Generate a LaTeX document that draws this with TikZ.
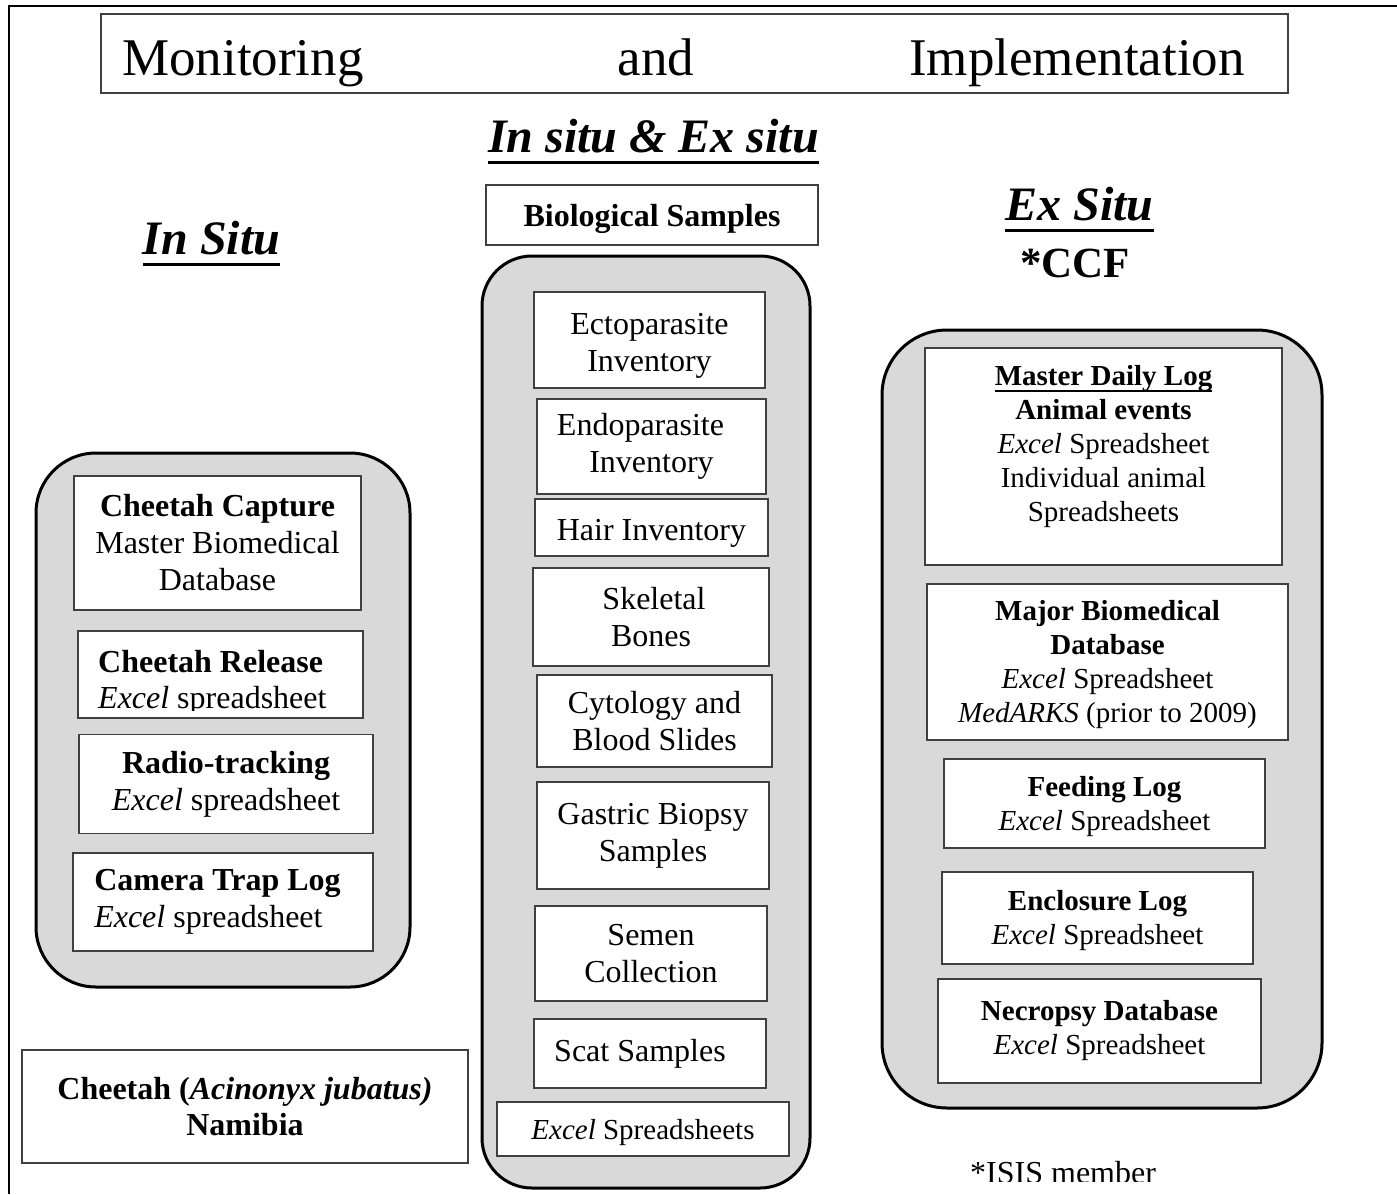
\documentclass[tikz,border=0pt]{standalone}
\usepackage{fontspec}
\setmainfont{Liberation Serif}
\definecolor{panelgray}{HTML}{D9D9D9}
\definecolor{boxline}{HTML}{404040}
\newcommand{\myBody}{\fontsize{32}{37}\selectfont}
\newcommand{\myRight}{\fontsize{29}{34}\selectfont}
\newcommand{\myHead}{\fontsize{48}{52}\selectfont\bfseries\itshape}
\newcommand{\ulbar}[3]{\setbox0=\hbox{#3}\rlap{\rule[-#1]{\wd0}{#2}}\box0}
\newcommand{\tstrut}[1]{\rule{0pt}{#1}}
\begin{document}
\begin{tikzpicture}[x=1pt,y=-1pt,
  panel/.style={draw=black, line width=3pt, fill=panelgray},
  box/.style={draw=boxline, line width=1.3pt, fill=white, inner sep=0pt, align=center},
  lbox/.style={box, font=\myBody},
  rbox/.style={box, font=\myRight},
  head/.style={anchor=base, inner sep=0pt, font=\myHead}]
\useasboundingbox (0,0) rectangle (1397,1194);
\fill[white] (0,0) rectangle (1397,1194);
% outer frame (partially visible)
\draw[line width=2.5pt] (9,1194) -- (9,6) -- (1397,6);

% title
\node[draw=boxline, line width=1.2pt, minimum width=1187pt, minimum height=79pt, inner sep=0pt,
      text height=54.5pt, text depth=11.5pt, font=\fontsize{53}{60}\selectfont] (title) at (694.5,53.5)
  {Monitoring\hspace*{254pt}and\hspace*{215pt}Implementation\hspace*{22pt}};

% headings
\node[head] (hin) at (211.5,254) {\ulbar{12pt}{3pt}{In Situ}};
\node[head] (hboth) at (653.5,152) {\ulbar{12pt}{3pt}{In situ \& Ex situ}};
\node[head] (hex) at (1079.5,220) {\ulbar{12pt}{3pt}{Ex Situ}};
\node[anchor=base, inner sep=0pt, font=\fontsize{43}{48}\selectfont\bfseries] (ccf) at (1075,277) {*CCF};

% panels
\node[panel, rounded corners=60pt, minimum width=374pt, minimum height=534pt] (pin) at (223,720) {};
\node[panel, rounded corners=50pt, minimum width=328pt, minimum height=932pt] (pboth) at (646,722) {};
\node[panel, rounded corners=65pt, minimum width=440pt, minimum height=778pt] (pex) at (1102,719) {};

% In situ boxes
\node[lbox, minimum width=287pt, minimum height=134pt] (cap) at (217.5,543)
  {\textbf{Cheetah Capture}\\Master Biomedical\\Database};
\node[box, minimum width=285pt, minimum height=87pt] (rel) at (220.5,674.5) {};
\begin{scope}
  \clip (79,632) rectangle (362,710);
  \node[anchor=base west, inner sep=0pt, font=\myBody\bfseries] (relA) at (98,672) {Cheetah Release};
  \node[anchor=base west, inner sep=0pt, font=\myBody] (relB) at (98,708) {\textit{Excel} spreadsheet};
\end{scope}
\node[lbox, minimum width=294pt, minimum height=99pt] (rad) at (226,784)
  {\textbf{Radio-tracking}\\\textit{Excel} spreadsheet};
\node[lbox, align=left, minimum width=300pt, minimum height=98pt] (cam) at (223,902)
  {\textbf{Camera Trap Log}\hspace*{11pt}\\\textit{Excel} spreadsheet};

% species box
\node[lbox, font=\fontsize{32}{36}\selectfont\bfseries, minimum width=446pt, minimum height=113pt] (sp) at (245,1106.5)
  {Cheetah (\textit{Acinonyx jubatus)}\\Namibia};

% middle column
\node[lbox, minimum width=332pt, minimum height=60pt] (bio) at (652,215) {\tstrut{30pt}\textbf{Biological Samples}};
\node[lbox, minimum width=231pt, minimum height=96pt] (ecto) at (649.5,340) {\tstrut{32pt}Ectoparasite\\Inventory};
\node[lbox, minimum width=229pt, minimum height=95pt] (endo) at (651.5,446.5) {Endoparasite\hspace*{22pt}\\Inventory};
\node[lbox, minimum width=233pt, minimum height=57pt] (hair) at (651.5,527.5) {\tstrut{32pt}Hair Inventory};
\node[lbox, minimum width=236pt, minimum height=98pt] (skel) at (651,617) {\hspace*{6pt}Skeletal\\Bones};
\node[lbox, minimum width=235pt, minimum height=92pt] (cyto) at (654.5,721) {Cytology and\\Blood Slides};
\node[lbox, minimum width=232pt, minimum height=107pt] (gast) at (653,835.5) {Gastric Biopsy\\Samples};
\node[lbox, minimum width=232pt, minimum height=95pt] (semen) at (651,953.5) {Semen\\Collection};
\node[lbox, minimum width=232pt, minimum height=69pt] (scat) at (650,1053.5) {Scat Samples\hspace*{20pt}};
\node[rbox, minimum width=292pt, minimum height=54pt] (xls) at (643,1129) {\tstrut{28pt}\textit{Excel} Spreadsheets};

% ex situ column
\node[rbox, minimum width=357pt, minimum height=217pt] (mdl) at (1103.5,456.5)
  {\textbf{\ulbar{6.5pt}{1.5pt}{Master Daily Log}}\\\textbf{Animal events}\\\textit{Excel} Spreadsheet\\Individual animal\\Spreadsheets\rule[-27pt]{0pt}{1pt}};
\node[rbox, minimum width=361pt, minimum height=156pt] (major) at (1107.5,662)
  {\tstrut{26pt}\textbf{Major Biomedical}\\\textbf{Database}\\\textit{Excel} Spreadsheet\\\textit{MedARKS} (prior to 2009)};
\node[rbox, minimum width=321pt, minimum height=89pt] (feed) at (1104.5,803.5)
  {\tstrut{26pt}\textbf{Feeding Log}\\\textit{Excel} Spreadsheet};
\node[rbox, minimum width=311pt, minimum height=92pt] (encl) at (1097.5,918)
  {\tstrut{26pt}\textbf{Enclosure Log}\\\textit{Excel} Spreadsheet};
\node[rbox, minimum width=323pt, minimum height=104pt] (necro) at (1099.5,1031)
  {\textbf{Necropsy Database}\\\textit{Excel} Spreadsheet};

% footnote
\begin{scope}
  \clip (900,1100) rectangle (1397,1181);
  \node[anchor=base west, inner sep=0pt, font=\myBody] (isis) at (970,1183) {*ISIS member};
\end{scope}
\end{tikzpicture}
\end{document}
